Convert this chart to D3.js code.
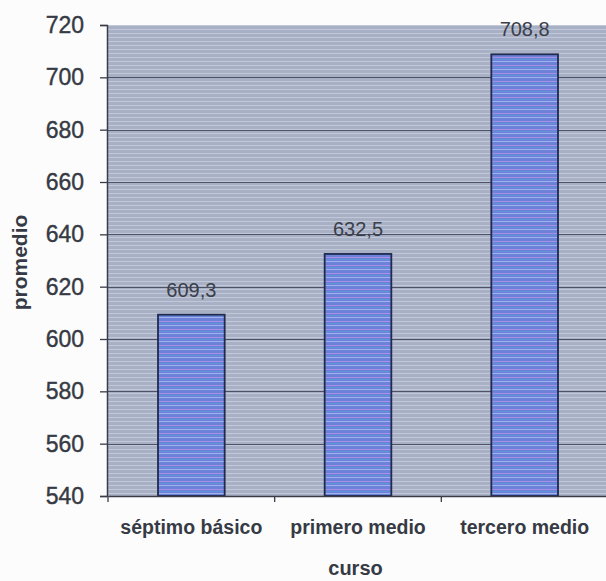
<!DOCTYPE html>
<html>
<head>
<meta charset="utf-8">
<script src="https://cdn.jsdelivr.net/npm/d3@7"></script>
<style>
  html, body { margin: 0; padding: 0; background: #fcfcfc; }
  svg { display: block; }
</style>
</head>
<body>
<svg id="chart" width="606" height="581"></svg>
<script>
// Average score per school year
const categories = ["séptimo básico", "primero medio", "tercero medio"];
const values = [609.3, 632.5, 708.8];
const valueLabels = ["609,3", "632,5", "708,8"];
const yTicks = [540, 560, 580, 600, 620, 640, 660, 680, 700, 720];
const xTitle = "curso";
const yTitle = "promedio";

const svg = d3.select("#chart");
const plotLeft = 107, plotRight = 608, plotTop = 25, plotBottom = 496;
const font = "Liberation Sans, Arial, sans-serif";
const ink = "#363a44";

const y = d3.scaleLinear().domain([540, 720]).range([plotBottom, plotTop]);
const x = d3.scaleBand().domain(categories).range([plotLeft + 1, plotRight])
  .paddingInner(0.6).paddingOuter(0.3);

// striped fills for the plot background and the bars
const defs = svg.append("defs");
const bg = defs.append("pattern").attr("id", "bgStripe")
  .attr("patternUnits", "userSpaceOnUse").attr("width", 8).attr("height", 4);
bg.append("rect").attr("width", 8).attr("height", 4).attr("fill", "#a8b0c6");
bg.append("rect").attr("y", 1).attr("width", 8).attr("height", 1).attr("fill", "#c3c8d8");

const bp = defs.append("pattern").attr("id", "barStripe")
  .attr("patternUnits", "userSpaceOnUse").attr("width", 8).attr("height", 8);
bp.append("rect").attr("width", 8).attr("height", 8).attr("fill", "#6b82d8");
bp.append("rect").attr("y", 1).attr("width", 8).attr("height", 1).attr("fill", "#a88ee6");
bp.append("rect").attr("y", 3).attr("width", 8).attr("height", 1).attr("fill", "#5f95d6");
bp.append("rect").attr("y", 5).attr("width", 8).attr("height", 1).attr("fill", "#a0b2f0");

// plot area
svg.append("rect")
  .attr("x", plotLeft).attr("y", plotTop)
  .attr("width", plotRight - plotLeft).attr("height", plotBottom - plotTop)
  .attr("fill", "url(#bgStripe)");

// horizontal gridlines
svg.append("g").selectAll("line")
  .data(yTicks.filter(v => v > 540 && v < 720))
  .join("line")
  .attr("x1", plotLeft).attr("x2", plotRight)
  .attr("y1", d => Math.round(y(d)) + 0.5).attr("y2", d => Math.round(y(d)) + 0.5)
  .attr("stroke", "#4c5166").attr("stroke-width", 1.2);

// bars
svg.append("g").selectAll("rect")
  .data(values)
  .join("rect")
  .attr("x", (d, i) => x(categories[i]))
  .attr("y", d => y(d))
  .attr("width", x.bandwidth())
  .attr("height", d => y(540) - y(d))
  .attr("fill", "url(#barStripe)")
  .attr("stroke", "#1f2a4e").attr("stroke-width", 1.8);

// value labels
svg.append("g").selectAll("text")
  .data(values)
  .join("text")
  .attr("x", (d, i) => x(categories[i]) + x.bandwidth() / 2)
  .attr("y", d => y(d) - 18)
  .attr("text-anchor", "middle")
  .attr("font-family", font)
  .attr("font-size", 20)
  .attr("fill", "#3b3f4a")
  .text((d, i) => valueLabels[i]);

// y axis
const yAxis = svg.append("g")
  .attr("transform", `translate(${plotLeft},0)`)
  .call(d3.axisLeft(y).tickValues(yTicks).tickSize(7).tickPadding(16)
    .tickFormat(d3.format("d")));
yAxis.select(".domain").attr("stroke", "#3a3d48").attr("stroke-width", 1.5);
yAxis.selectAll(".tick line").attr("stroke", "#3a3d48").attr("stroke-width", 1.3);
yAxis.selectAll(".tick text")
  .attr("font-family", font)
  .attr("font-size", 23).attr("fill", ink)
  .attr("stroke", ink).attr("stroke-width", 0.4);

// x axis
const xAxis = svg.append("g")
  .attr("transform", `translate(0,${plotBottom})`)
  .call(d3.axisBottom(x).tickSize(0).tickPadding(24));
xAxis.select(".domain").attr("stroke", "#3a3d48").attr("stroke-width", 1.5);
xAxis.selectAll(".tick text")
  .attr("font-family", font)
  .attr("font-weight", "bold")
  .attr("font-size", 19.5).attr("fill", ink);

// category separator ticks
const step = x.step();
xAxis.append("g").selectAll("line")
  .data(d3.range(0, categories.length + 1))
  .join("line")
  .attr("x1", i => x.range()[0] + i * step).attr("x2", i => x.range()[0] + i * step)
  .attr("y1", 0).attr("y2", 6)
  .attr("stroke", "#3a3d48").attr("stroke-width", 1.3);

// axis titles
svg.append("text")
  .attr("x", (plotLeft + plotRight) / 2 - 2).attr("y", 575)
  .attr("text-anchor", "middle")
  .attr("font-family", font)
  .attr("font-weight", "bold").attr("font-size", 20)
  .attr("fill", ink)
  .text(xTitle);

svg.append("text")
  .attr("transform", `translate(27,${(plotTop + plotBottom) / 2 + 2}) rotate(-90)`)
  .attr("text-anchor", "middle")
  .attr("font-family", font)
  .attr("font-weight", "bold").attr("font-size", 21)
  .attr("fill", ink)
  .text(yTitle);
</script>
</body>
</html>
